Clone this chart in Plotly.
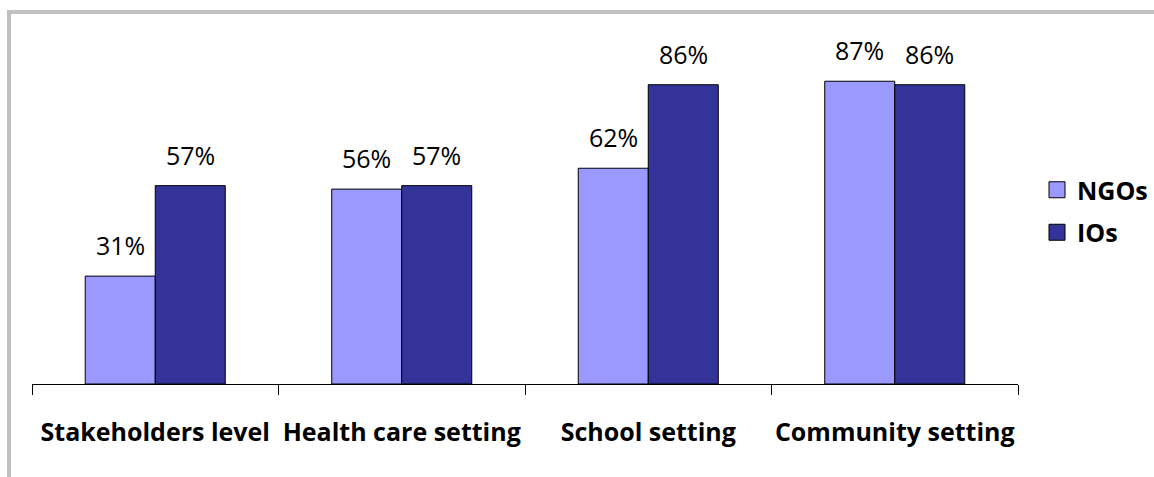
import plotly.graph_objects as go

# Share of organisations by level of intervention
categories = ["Stakeholders level", "Health care setting", "School setting", "Community setting"]
ngos = [31, 56, 62, 87]
ios = [57, 57, 86, 86]
series_names = ["NGOs", "IOs"]
series_colors = ["#9999FF", "#333399"]

W, H = 1154, 477
L, R, T, B = 32, 136, 36, 93
plot_w = W - L - R
plot_h = H - T - B

fig = go.Figure()
for name, vals, color in zip(series_names, [ngos, ios], series_colors):
    fig.add_trace(go.Bar(
        x=categories, y=vals, name=name,
        marker=dict(color=color, line=dict(color="black", width=1)),
        showlegend=False,
    ))
    # legend entry drawn as a square swatch
    fig.add_trace(go.Scatter(
        x=[None], y=[None], mode="markers", name=name, legendgroup=name,
        marker=dict(symbol="square", size=16, color=color, line=dict(color="black", width=1)),
    ))

# value labels above each bar
half_bar = 35
for vals, shift in [(ngos, -half_bar), (ios, half_bar)]:
    for cat, v in zip(categories, vals):
        fig.add_annotation(
            x=cat, y=v, text=f"{v}%", showarrow=False,
            xshift=shift, yshift=12, yanchor="bottom",
            font=dict(family="Open Sans", size=25, color="black"),
        )

# outer frame of the chart
x0 = (9 - L) / plot_w
y1 = (H - B - 12) / plot_h
fig.add_shape(type="rect", xref="paper", yref="paper",
              x0=x0, x1=1.3, y0=-0.5, y1=y1,
              line=dict(color="#C0C0C0", width=4), layer="below")

fig.update_layout(
    width=W, height=H,
    margin=dict(l=L, r=R, t=T, b=B, autoexpand=False),
    paper_bgcolor="white", plot_bgcolor="white",
    barmode="group", bargap=0.432, bargroupgap=0,
    legend=dict(
        x=(1037 - L) / plot_w, xanchor="left",
        y=(H - B - 167) / plot_h, yanchor="top",
        font=dict(family="Open Sans", size=25, color="black", weight="bold"),
        tracegroupgap=7, traceorder="grouped",
        bgcolor="rgba(0,0,0,0)",
    ),
)
fig.update_xaxes(
    showline=True, linecolor="black", linewidth=1,
    ticks="outside", tickson="boundaries", ticklen=10, tickcolor="black",
    tickfont=dict(family="Open Sans", size=25, color="black", weight="bold"),
    tickangle=0, automargin=False,
    ticklabelstandoff=26, showgrid=False,
)
fig.update_yaxes(range=[0, 100], visible=False, showgrid=False)

fig.write_html("out.html")
